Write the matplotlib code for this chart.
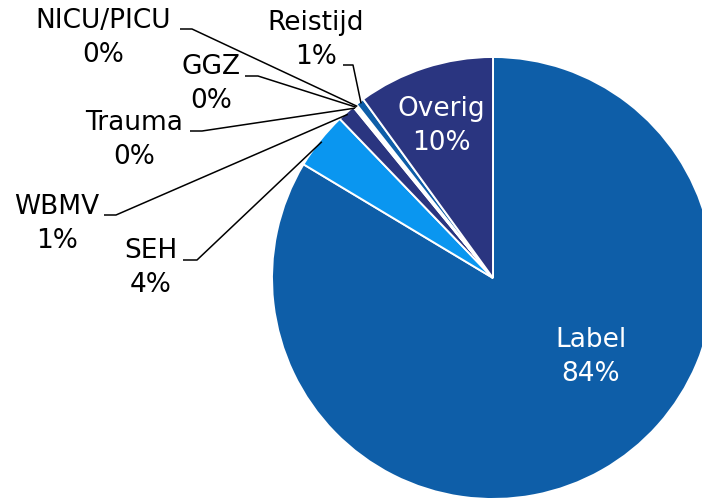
import numpy as np
import matplotlib
matplotlib.use('Agg')
import matplotlib.pyplot as plt

# data
labels = ['Label', 'SEH', 'WBMV', 'Trauma', 'GGZ', 'NICU/PICU', 'Reistijd', 'Overig']
values = [83.6, 4.2, 1.3, 0.1, 0.1, 0.1, 0.6, 10.0]
colors = ['#0E5EA8', '#0A96F0', '#2A3580', '#0E5EA8', '#0A96F0', '#2A3580', '#0E5EA8', '#2A3580']

W, H = 702, 498
CX, CY, R = 493, 278, 221

def px(x, y):
    # pixel position -> data units (pie radius = 1)
    return (x - CX) / R, (CY - y) / R

plt.rcParams['font.family'] = ['DejaVu Sans']
fs = 19

fig = plt.figure(figsize=(W / 100, H / 100), dpi=100)
ax = fig.add_axes([0, 0, 1, 1])

wedges, _ = ax.pie(values, colors=colors, startangle=90, counterclock=False,
                   radius=1, wedgeprops=dict(edgecolor='white', linewidth=1.4))

ax.set_aspect('auto')
ax.set_xlim(-CX / R, (W - CX) / R)
ax.set_ylim(-(H - CY) / R, CY / R)
ax.axis('off')

def pct_text(i):
    return '%s\n%d%%' % (labels[i], round(values[i]))

# inside labels
for i, pos in [(0, (591, 357)), (7, (441, 126))]:
    ax.text(*px(*pos), pct_text(i), ha='center', va='center', color='white',
            fontsize=fs, linespacing=1.42)

# outside labels: text centre, leader start (x, y), horizontal length
outside = {
    1: ((151, 268), (183, 260), 14),
    2: ((57, 224), (104, 215), 12),
    3: ((134, 140), (190, 131), 12),
    4: ((211, 84), (245, 76), 13),
    5: ((103, 38), (180, 29), 12),
    6: ((316, 40), (343, 65), 10),
}
for i, (tpos, lpos, hl) in outside.items():
    ax.text(*px(*tpos), pct_text(i), ha='center', va='center', color='black',
            fontsize=fs, linespacing=1.42)
    w = wedges[i]
    ang = np.deg2rad((w.theta1 + w.theta2) / 2)
    ex, ey = 0.99 * np.cos(ang), 0.99 * np.sin(ang)
    sx, sy = px(*lpos)
    mx, my = px(lpos[0] + hl, lpos[1])
    ax.plot([sx, mx, ex], [sy, my, ey], color='black', linewidth=1.1,
            solid_capstyle='butt')

fig.savefig('out.png', dpi=100)
